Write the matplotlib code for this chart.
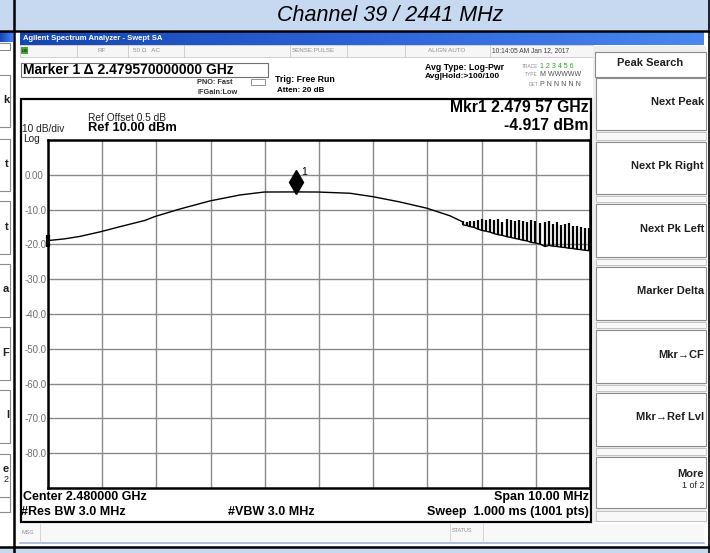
import numpy as np
import matplotlib.pyplot as plt
from matplotlib.patches import Rectangle
from matplotlib.colors import LinearSegmentedColormap
from matplotlib.transforms import offset_copy

plt.rcParams['font.family'] = ['Liberation Sans', 'DejaVu Sans']

title = "Channel 39 / 2441 MHz"

# smooth part of the trace (GHz, dBm)
freq = [2.47500, 2.47531, 2.47559, 2.47596, 2.47633, 2.47679, 2.47697,
        2.47744, 2.47799, 2.47854, 2.47899, 2.47957, 2.47998, 2.48057,
        2.48100, 2.48149, 2.48199, 2.48242, 2.48266]
level = [-18.9, -18.4, -17.7, -16.4, -14.9, -13.1, -12.0,
         -9.8, -7.5, -5.8, -4.95, -4.92, -4.95, -5.3,
         -6.3, -7.8, -9.6, -11.8, -13.6]

# right hand part: the trace jumps between a floor and a ragged top
spike_freq = [2.48266, 2.48273, 2.48279, 2.48286, 2.48293, 2.48301, 2.48308, 2.48316,
              2.48323, 2.48330, 2.48338, 2.48347, 2.48354, 2.48362, 2.48369, 2.48376,
              2.48384, 2.48391, 2.48399, 2.48408, 2.48417, 2.48424, 2.48432, 2.48439,
              2.48447, 2.48454, 2.48461, 2.48469, 2.48476, 2.48483, 2.48491, 2.48498]
spike_low = [-14.4, -14.6, -14.9, -15.1, -15.6, -16.0, -16.2, -16.5,
             -16.9, -17.2, -17.4, -17.8, -18.0, -18.3, -18.5, -18.8,
             -19.0, -19.4, -19.6, -19.9, -20.6, -20.3, -20.5, -20.6,
             -20.8, -20.9, -21.1, -21.2, -21.4, -21.5, -21.7, -21.8]
spike_top = [-13.4, -13.6, -13.2, -13.2, -12.9, -12.8, -13.1, -12.6,
             -12.9, -12.7, -13.5, -12.8, -13.0, -13.4, -12.9, -13.2,
             -13.6, -13.1, -13.3, -13.8, -13.5, -13.4, -14.0, -13.7,
             -14.5, -14.1, -13.9, -14.8, -14.6, -15.0, -15.2, -15.4]

marker_freq = 2.47957
marker_level = -4.917

y_ticks = [0, -10, -20, -30, -40, -50, -60, -70, -80]
y_labels = ['0.00', '-10.0', '-20.0', '-30.0', '-40.0', '-50.0', '-60.0', '-70.0', '-80.0']

softkeys = ['Next Peak', 'Next Pk Right', 'Next Pk Left', 'Marker Delta',
            'Mkr\u2192CF', 'Mkr\u2192Ref Lvl', 'More']
key_top = [78, 142, 204, 267, 330, 393, 457]
key_bot = [130, 194, 257, 320, 383, 446, 508]

# last letters of the neighbouring screenshot's soft keys, cut by the page edge
left_letters = ['k', 't', 't', 'a', 'F', 'l', 'e']

fig = plt.figure(figsize=(7.1, 5.53), dpi=100)
bg = fig.add_axes([0, 0, 1, 1])
bg.axis('off')


def box(x0, y0, x1, y1, fc='white', ec='none', lw=0.7, z=1):
    bg.add_patch(Rectangle((x0, y0), x1 - x0, y1 - y0, facecolor=fc,
                           edgecolor=ec, linewidth=lw, zorder=z))


def txt(x, y, s, size=8, weight='normal', ha='left', color='black', **kw):
    bg.text(x, y, s, fontsize=size, fontweight=weight, ha=ha, va='center',
            color=color, zorder=5, **kw)


# page bands
box(0, 0, 710, 30, fc='#c6d9f1')
box(0, 547, 710, 553, fc='#c6d9f1')
box(0, 31, 708, 546, fc='white')

# title bar of the analyzer window
blue = LinearSegmentedColormap.from_list('bar', ['#1646b0', '#2d63d8', '#4a88f0'])
grad = np.linspace(0, 1, 256)[None, :]
bg.imshow(grad, cmap=blue, extent=[20, 704, 45, 32], aspect='auto', zorder=2)
bg.imshow(grad, cmap=blue, extent=[0, 13, 42, 31], aspect='auto', zorder=2)
txt(23, 38.5, 'Agilent Spectrum Analyzer - Swept SA', size=5.5, weight='bold', color='white')

# status row
box(20, 45, 593, 57, fc='#f6f6f6', ec='#c0c0c0', lw=0.5)
for sx in [77, 128, 184, 290, 347, 405, 490]:
    bg.plot([sx, sx], [45, 57], color='#c0c0c0', lw=0.5, zorder=3)
box(21, 47, 28, 54, fc='#3fae2a', z=3)
txt(21.5, 50.5, 'LXI', size=3, weight='bold', color='#103010')
txt(97, 51, 'RF', size=4.5, color='#909090')
txt(133, 51, '50 \u03a9   AC', size=4.5, color='#909090')
txt(292, 51, 'SENSE:PULSE', size=4.5, color='#909090')
txt(428, 51, 'ALIGN AUTO', size=4.5, color='#909090')
txt(492, 51, '10:14:05 AM Jan 12, 2017', size=4.8, color='#404040')

# marker readout line
box(21, 63, 268, 77, fc='white', ec='#707070', lw=0.8)
txt(23, 70, 'Marker 1 \u0394 2.479570000000 GHz', size=10, weight='bold')
txt(197, 82, 'PNO: Fast', size=5.3, weight='bold', color='#303030')
txt(197, 92, 'IFGain:Low', size=5.3, weight='bold', color='#303030')
box(251, 79, 265, 85, fc='none', ec='#808080', lw=0.6)
txt(275, 80, 'Trig: Free Run', size=6.3, weight='bold')
txt(277, 91, 'Atten: 20 dB', size=5.8, weight='bold')
txt(425, 67.5, 'Avg Type: Log-Pwr', size=6.3, weight='bold')
txt(425, 77, 'Avg|Hold:>100/100', size=6.0, weight='bold')
txt(538, 66, 'TRACE', size=3.5, color='#909090', ha='right')
txt(538, 75, 'TYPE', size=3.5, color='#909090', ha='right')
txt(538, 84, 'DET', size=3.5, color='#909090', ha='right')
txt(540, 66, '1 2 3 4 5 6', size=5, color='#30a030')
txt(540, 75, 'M WWWWW', size=5, color='#505050')
txt(540, 84, 'P N N N N N', size=5, color='#505050')

# graph panel
box(21, 99, 591, 522, fc='white', ec='black', lw=1.6, z=1)
txt(88, 118, 'Ref Offset 0.5 dB', size=7.3, color='#202020')
txt(88, 128, 'Ref 10.00 dBm', size=9.3, weight='bold')
txt(22, 129.5, '10 dB/div', size=7.3, color='#202020')
txt(23, 138.5, 'Log', size=7.3, color='#202020')
txt(589, 108, 'Mkr1 2.479 57 GHz', size=11.3, weight='bold', ha='right')
txt(589, 125, '-4.917 dBm', size=11.3, weight='bold', ha='right')
txt(23, 497, 'Center 2.480000 GHz', size=9, weight='bold')
txt(21, 512, '#Res BW 3.0 MHz', size=9, weight='bold')
txt(228, 512, '#VBW 3.0 MHz', size=9, weight='bold')
txt(589, 497, 'Span 10.00 MHz', size=9, weight='bold', ha='right')
txt(589, 512, 'Sweep  1.000 ms (1001 pts)', size=9, weight='bold', ha='right')

# message row
box(20, 524, 704, 542, fc='#f8f8f8')
bg.plot([20, 704], [542.5, 542.5], color='#9fb3d6', lw=1.2, zorder=3)
for sx in [40, 450, 483]:
    bg.plot([sx, sx], [524, 542], color='#d0d0d0', lw=0.6, zorder=3)
txt(22, 532, 'MSG', size=4, color='#909090')
txt(452, 530, 'STATUS', size=4, color='#909090')

# soft keys
box(593, 46, 706, 522, fc='#eeeeee')
box(595, 52, 706, 77, fc='white', ec='#8c8c8c', lw=0.8, z=2)
txt(650, 63.5, 'Peak Search', size=8, weight='bold', ha='center', color='#202020')
for i, name in enumerate(softkeys):
    box(596, key_top[i], 706, key_bot[i], fc='white', ec='#8c8c8c', lw=0.8, z=2)
    if i + 1 < len(softkeys):
        box(596, key_bot[i] + 2, 706, key_top[i + 1] - 2, fc='#f8f8f8', ec='#b0b0b0', lw=0.5, z=2)
    if name == 'More':
        txt(704, 474, name, size=8, weight='bold', ha='right', color='#202020')
        txt(704, 485, '1 of 2', size=6.5, ha='right', color='#202020')
    else:
        mid = (key_top[i] + key_bot[i]) / 2 - 2
        txt(704, mid, name, size=8, weight='bold', ha='right', color='#202020')
box(596, 511, 706, 521, fc='#f8f8f8', ec='#b0b0b0', lw=0.5, z=2)

# cut soft keys of the neighbouring screenshot on the far left
box(-20, 43, 10, 50, fc='white', ec='#8c8c8c', lw=0.8, z=2)
for i, letter in enumerate(left_letters):
    box(-20, key_top[i] - 3, 10, key_bot[i] - 3, fc='white', ec='#8c8c8c', lw=0.8, z=2)
    if i == len(left_letters) - 1:
        txt(9, 469, letter, size=8, weight='bold', ha='right', color='#202020')
        txt(9, 480, '2', size=6.5, ha='right', color='#202020')
    else:
        txt(9, (key_top[i] + key_bot[i]) / 2 - 4, letter, size=8, weight='bold',
            ha='right', color='#202020')
box(-20, 497, 10, 512, fc='white', ec='#8c8c8c', lw=0.8, z=2)

# table lines of the page
bg.plot([0, 710], [30.5, 30.5], color='black', lw=1.8, zorder=6)
bg.plot([0, 710], [546.5, 546.5], color='black', lw=1.8, zorder=6)
bg.plot([13.5, 13.5], [0, 553], color='black', lw=1.8, zorder=6)
bg.plot([708.5, 708.5], [0, 553], color='black', lw=1.2, zorder=6)
bg.text(390, 15.5, title, fontsize=15.5, style='italic', ha='center', va='center', zorder=6)

bg.set_xlim(0, 710)
bg.set_ylim(553, 0)

# the trace grid
ax = fig.add_axes([48 / 710, 1 - 488 / 553, 542 / 710, 348 / 553])
ax.set_facecolor('white')
ax.set_xlim(2.475, 2.485)
ax.set_ylim(-90, 10)
ax.set_xticks(np.linspace(2.475, 2.485, 11))
ax.set_xticklabels([])
ax.set_yticks(y_ticks)
ax.set_yticklabels(y_labels, fontsize=7, color='#707070')
for lab in ax.get_yticklabels():
    lab.set_horizontalalignment('left')
ax.tick_params(length=0, axis='y', pad=17)
ax.tick_params(length=0, axis='x')
ax.grid(True, color='#8a8a8a', linewidth=1.0)
ax.set_axisbelow(True)
for sp in ax.spines.values():
    sp.set_linewidth(1.8)
    sp.set_color('black')

ax.plot(freq, level, color='black', lw=1.0)
ax.plot(freq[-1:] + spike_freq, level[-1:] + spike_low, color='black', lw=1.0)
ax.vlines(spike_freq, spike_low, spike_top, color='black', lw=1.6)

# delta reference at the left edge
ax.plot(freq[0], level[0], marker='|', markersize=9, mew=3, color='black', clip_on=False)

# marker 1
up = offset_copy(ax.transData, fig=fig, x=0, y=10, units='dots')
ax.plot(marker_freq, marker_level, marker='d', markersize=12, color='black',
        transform=up)
ax.annotate('1', xy=(marker_freq, marker_level), xytext=(6, 20),
            textcoords='offset pixels', fontsize=7.5, va='center')

fig.savefig('out.png', dpi=100)
